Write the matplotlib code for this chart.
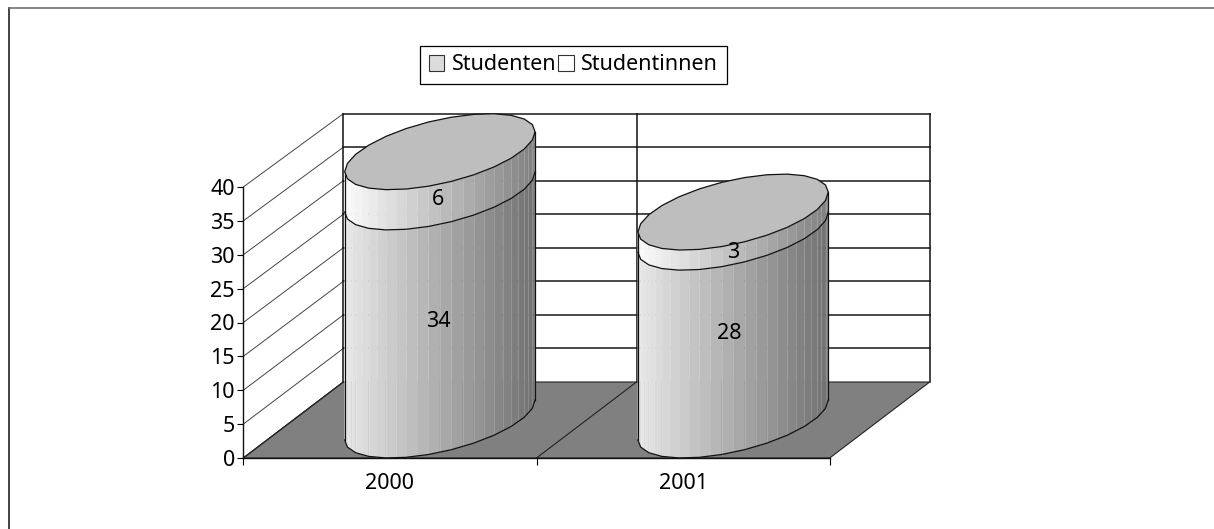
import numpy as np
import matplotlib
matplotlib.use('Agg')
import matplotlib.pyplot as plt
from matplotlib.lines import Line2D
from matplotlib.patches import Patch, Polygon

plt.rcParams['font.family'] = ['Noto Sans', 'DejaVu Sans']

# data
years = ['2000', '2001']
studenten = [34, 28]
studentinnen = [6, 3]
series_labels = ['Studenten', 'Studentinnen']
y_ticks = [0, 5, 10, 15, 20, 25, 30, 35, 40]

# layout in pixels of the 1214x529 picture
W, H = 1214, 529
AX_L, AX_R, AX_TOP, AX_BOT = 243.3, 829.7, 187, 458
DEPTH_X, DEPTH_Y = 100, 76
PX_X = (AX_R - AX_L) / 2
PX_Y = (AX_BOT - AX_TOP) / 40
BACK_SCALE = 0.99  # the back wall comes out a bit shorter than the front axis
FONT = 15.5
N_FACETS = 13   # coarse outline of the drum
N_BANDS = 2     # shading strips per facet

fig = plt.figure(figsize=(W / 100, H / 100), dpi=100)
ax = fig.add_axes([AX_L / W, 1 - AX_BOT / H, (AX_R - AX_L) / W, (AX_BOT - AX_TOP) / H])
ax.set_xlim(0, len(years))
ax.set_ylim(0, 40)
ax.patch.set_visible(False)


def proj(x, v, depth=0.0):
    # category units + value + depth (0 front, 1 back) -> axes data coords
    return x + depth * DEPTH_X / PX_X, v * (1 - depth * (1 - BACK_SCALE)) + depth * DEPTH_Y / PX_Y


def line(x0, v0, d0, x1, v1, d1, color='#222222', lw=1.0, z=1):
    a, b = proj(x0, v0, d0), proj(x1, v1, d1)
    ax.plot([a[0], b[0]], [a[1], b[1]], color=color, lw=lw, zorder=z, clip_on=False,
            solid_capstyle='projecting')


n_cat = len(years)

# floor
floor = [proj(0, 0, 0), proj(n_cat, 0, 0), proj(n_cat, 0, 1), proj(0, 0, 1)]
ax.add_patch(Polygon(floor, closed=True, fc='#808080', ec='#222222', lw=0.8, zorder=0.5, clip_on=False))

# back wall and side wall
for v in y_ticks:
    if v > 0:
        line(0, v, 1, n_cat, v, 1, color='#2a2a2a', lw=1.2)
    line(0, v, 0, 0, v, 1, color='#444444', lw=0.7)
for c in range(n_cat + 1):
    line(c, 0, 1, c, 40, 1, color='#111111', lw=1.1)
    if c < n_cat:
        line(c, 0, 0, c, 0, 1, color='#222222', lw=0.8)

# cylinder cross section in pixels, front part runs left -> bottom -> right
HALF_W, HALF_D = 81.0, 50.0
HALF_H = DEPTH_Y / 2
t_right = np.arctan2(HALF_D, HALF_W)
t_front = np.linspace(t_right + np.pi, t_right + 2 * np.pi, N_FACETS + 1)
t_all = np.linspace(t_right, t_right + 2 * np.pi, 2 * N_FACETS + 1)


def ring(center, v, t):
    xs = center + (HALF_W * np.cos(t) + HALF_D * np.sin(t) + HALF_D) / PX_X
    ys = (v * BACK_SCALE * PX_Y + HALF_H + HALF_H * np.sin(t)) / PX_Y
    return xs, ys


def shade(frac, left, right):
    g = (left + (right - left) * frac) / 255
    return (g, g, g)


def drum(center, v0, v1, left, right):
    x0, y0 = ring(center, v0, t_front)
    x1, y1 = ring(center, v1, t_front)
    span = x0[-1] - x0[0]
    for i in range(N_FACETS):
        for b in range(N_BANDS):
            f0, f1 = b / N_BANDS, (b + 1) / N_BANDS
            xa, xb = x0[i] + (x0[i + 1] - x0[i]) * f0, x0[i] + (x0[i + 1] - x0[i]) * f1
            ya0, yb0 = y0[i] + (y0[i + 1] - y0[i]) * f0, y0[i] + (y0[i + 1] - y0[i]) * f1
            ya1, yb1 = y1[i] + (y1[i + 1] - y1[i]) * f0, y1[i] + (y1[i + 1] - y1[i]) * f1
            col = shade(((xa + xb) / 2 - x0[0]) / span, left, right)
            pts = [(xa, ya0), (xb, yb0), (xb, yb1), (xa, ya1)]
            ax.add_patch(Polygon(pts, closed=True, fc=col, ec=col, lw=0.3, zorder=2, clip_on=False))
            if i + b > 0:
                ax.plot([xa, xa], [ya0, ya1], color='white', alpha=0.16, lw=0.8,
                        zorder=2.1, clip_on=False)
    # outline: lower edge and both sides
    ax.plot(x0, y0, color='#111111', lw=0.9, zorder=3, clip_on=False)
    ax.plot([x0[0], x1[0]], [y0[0], y1[0]], color='#111111', lw=0.9, zorder=3, clip_on=False)
    ax.plot([x0[-1], x1[-1]], [y0[-1], y1[-1]], color='#111111', lw=0.9, zorder=3, clip_on=False)


for i, year in enumerate(years):
    center = i + 0.5
    low, high = studenten[i], studenten[i] + studentinnen[i]
    drum(center, 0, low, 232, 112)
    drum(center, low, high, 252, 128)
    xt, yt = ring(center, high, t_all)
    ax.add_patch(Polygon(np.column_stack([xt, yt]), closed=True, fc='#BEBEBE', ec='#111111',
                         lw=0.9, zorder=4, clip_on=False))

# data labels, offsets in pixels from the middle of each segment
low_off = [(-2, -16), (-4, -7)]
high_off = [(-2, -28), (0, -30)]
for i in range(n_cat):
    center = i + 0.5 + HALF_D / PX_X
    base = DEPTH_Y / 2 / PX_Y
    low, high = studenten[i], studenten[i] + studentinnen[i]
    ax.annotate(str(studenten[i]), (center, low / 2 * BACK_SCALE + base), xytext=low_off[i],
                textcoords='offset pixels', ha='center', va='center', fontsize=FONT, color='black',
                zorder=6, annotation_clip=False)
    ax.annotate(str(studentinnen[i]), (center, (low + high) / 2 * BACK_SCALE + base), xytext=high_off[i],
                textcoords='offset pixels', ha='center', va='center', fontsize=FONT, color='black',
                zorder=6, annotation_clip=False)

# axes
for name in ['top', 'right']:
    ax.spines[name].set_visible(False)
for name in ['left', 'bottom']:
    ax.spines[name].set_color('#111111')
    ax.spines[name].set_linewidth(1.0)
    ax.spines[name].set_zorder(5)
ax.set_yticks(y_ticks)
ax.set_xticks(range(n_cat + 1))
ax.set_xticklabels([])
ax.set_xticks([c + 0.5 for c in range(n_cat)], labels=years, minor=True)
ax.tick_params(axis='y', length=4, width=0.8, pad=2, labelsize=FONT)
ax.tick_params(axis='x', which='major', length=5, width=0.8)
ax.tick_params(axis='x', which='minor', length=0, pad=11, labelsize=FONT)

# legend
handles = [Patch(fc='#DCDCDC', ec='#333333', lw=0.8), Patch(fc='white', ec='#333333', lw=0.8)]
leg = fig.legend(handles, series_labels, ncol=2, loc='center', bbox_to_anchor=(573.5 / W, 1 - 65 / H),
                 fontsize=FONT, frameon=True, fancybox=False, edgecolor='black', framealpha=1,
                 handlelength=0.7, handleheight=0.7, handletextpad=0.35, columnspacing=0.1,
                 borderpad=0.4, borderaxespad=0)
leg.get_frame().set_linewidth(0.9)

# outer frame of the page, only top and left
fig.add_artist(Line2D([8.5 / W, 8.5 / W], [0, 1 - 8 / H], color='#111111', lw=1.1))
fig.add_artist(Line2D([8.5 / W, 1], [1 - 8 / H, 1 - 8 / H], color='#666666', lw=1.1))

fig.savefig('out.png', dpi=100)
